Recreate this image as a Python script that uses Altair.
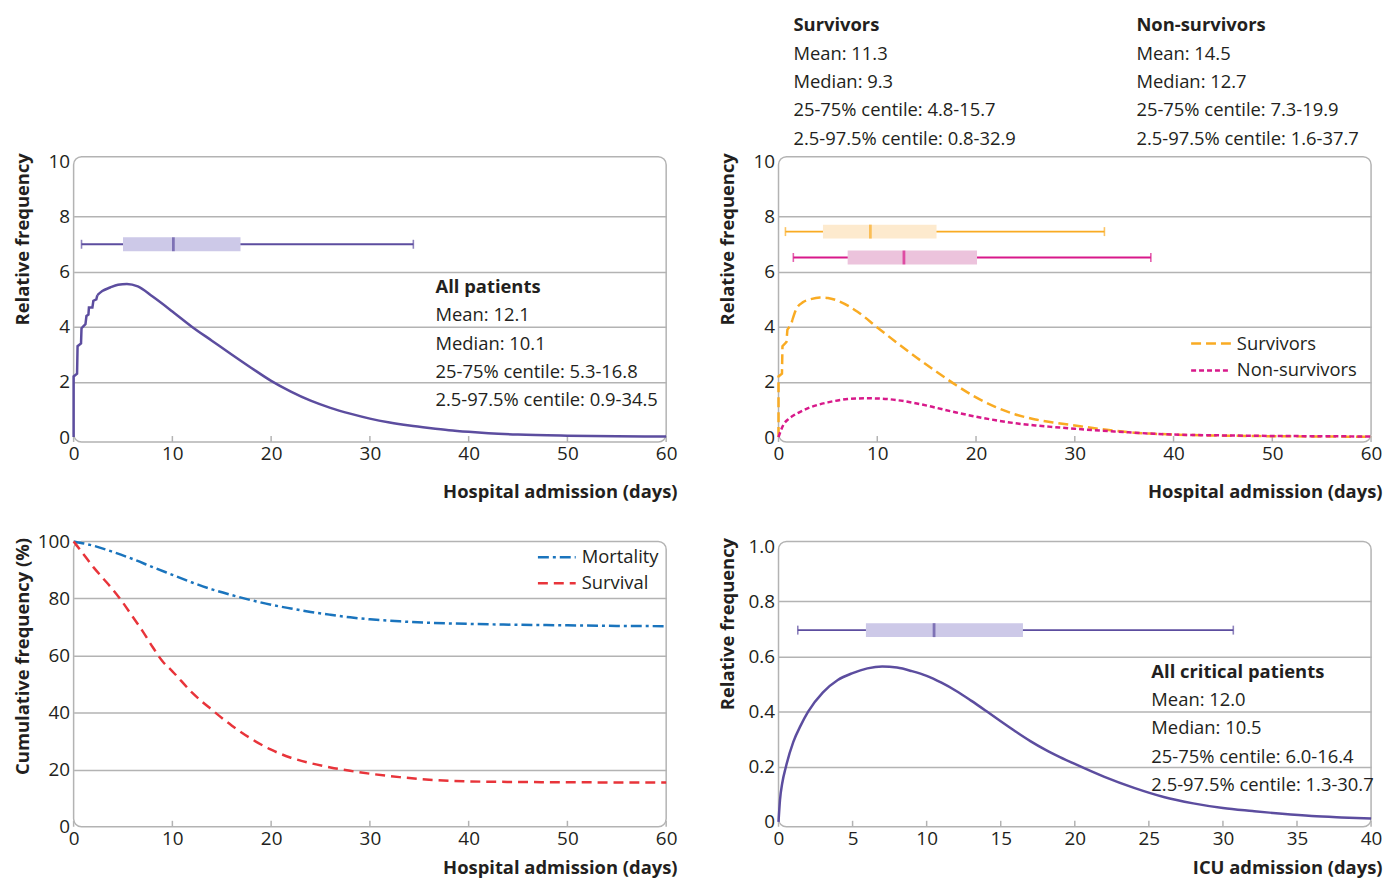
import altair as alt
import pandas as pd

FONT = "Open Sans"
INK = "#231f20"
FRAME = "#b3b3b3"
W, H = 596, 287
FS_TXT = 18.5      # annotation / legend text
FS_TICK = 19       # tick labels
FS_TITLE = 18.5    # axis titles

# ---------------- data ----------------
# Panel A: all patients, hospital admission (relative frequency, %)
all_x = [0, 0, 0.35, 0.4, 0.75, 0.8, 1.2, 1.3, 1.5, 1.55, 1.9, 2.0, 2.3, 2.4, 2.9, 3.7, 4.5, 5.4, 6.5, 8,
         10, 12, 14, 16, 18, 20, 22, 24, 26, 28, 30, 32, 34, 36, 38, 40, 42, 45, 50, 55, 60]
all_y = [0, 2.2, 2.3, 3.3, 3.4, 3.95, 4.1, 4.4, 4.45, 4.7, 4.7, 4.95, 5.0, 5.15, 5.3, 5.43, 5.53, 5.56, 5.47, 5.1,
         4.56, 4.0, 3.5, 3.0, 2.51, 2.04, 1.65, 1.32, 1.06, 0.85, 0.67, 0.53, 0.42, 0.33, 0.25, 0.19, 0.14,
         0.09, 0.05, 0.03, 0.02]
all_steps_end = 13   # index where the stepped start of the curve ends
all_box = [0.8, 5.0, 10.1, 16.9, 34.4]          # lo, q1, median, q3, hi
all_text = ["All patients", "Mean: 12.1", "Median: 10.1",
            "25-75% centile: 5.3-16.8", "2.5-97.5% centile: 0.9-34.5"]

# Panel B: survivors / non-survivors
surv_x = [0, 0, 0.35, 0.4, 0.8, 0.9, 1.3, 1.4, 1.8, 2.5, 3.2, 4.2, 5, 6, 8, 10, 12, 14, 16, 18, 20, 22, 24,
          26, 28, 30, 32, 34, 36, 38, 40, 45, 50, 55, 60]
surv_y = [0, 2.2, 2.3, 3.3, 3.45, 3.9, 4.1, 4.25, 4.65, 4.9, 5.0, 5.07, 5.05, 4.95, 4.55, 3.98, 3.42, 2.88,
          2.37, 1.88, 1.44, 1.09, 0.82, 0.64, 0.52, 0.42, 0.32, 0.23, 0.16, 0.12, 0.09, 0.05, 0.03, 0.02, 0.01]
surv_steps_end = 7
nonsurv_x = [0, 0.5, 1, 1.5, 2, 3, 4, 5, 6, 7, 8, 9, 10, 11, 12, 14, 16, 18, 20, 22, 24, 26, 28, 30, 32, 34,
             36, 38, 40, 45, 50, 55, 60]
nonsurv_y = [0, 0.45, 0.65, 0.78, 0.88, 1.05, 1.17, 1.26, 1.33, 1.38, 1.4, 1.41, 1.4, 1.38, 1.34, 1.22,
             1.06, 0.89, 0.74, 0.61, 0.5, 0.42, 0.36, 0.3, 0.25, 0.2, 0.16, 0.12, 0.09, 0.06, 0.04, 0.03, 0.02]
surv_box = [0.7, 4.5, 9.3, 16.0, 33.0]
nonsurv_box = [1.5, 7.0, 12.7, 20.1, 37.7]
surv_text = ["Survivors", "Mean: 11.3", "Median: 9.3", "25-75% centile: 4.8-15.7", "2.5-97.5% centile: 0.8-32.9"]
nonsurv_text = ["Non-survivors", "Mean: 14.5", "Median: 12.7", "25-75% centile: 7.3-19.9",
                "2.5-97.5% centile: 1.6-37.7"]
legend_b = ["Survivors", "Non-survivors"]

# Panel C: cumulative frequency (%)
mort_x = [0, 2, 4, 6, 8, 10, 12, 14, 16, 18, 20, 22, 24, 26, 28, 30, 33, 36, 40, 45, 50, 55, 60]
mort_y = [100, 98.5, 96.3, 93.8, 91, 88.3, 85.6, 83.2, 81.2, 79.4, 77.8, 76.5, 75.3, 74.3, 73.4, 72.7, 72.0,
          71.5, 71.1, 70.8, 70.6, 70.4, 70.3]
survl_x = [0, 1, 2, 3, 4, 5, 6, 7, 8, 9, 10, 12, 14, 16, 18, 20, 22, 24, 26, 28, 30, 33, 36, 40, 45, 50, 60]
survl_y = [100, 95.5, 91, 87, 83, 78.5, 73.5, 68.5, 63, 58, 54.5, 47, 41, 35.5, 30.8, 27, 24.2, 22.3, 20.8,
           19.6, 18.6, 17.4, 16.5, 15.9, 15.7, 15.6, 15.5]
legend_c = ["Mortality", "Survival"]

# Panel D: ICU admission
icu_x = [0, 0.1, 0.25, 0.5, 1, 1.5, 2, 3, 4, 5, 6, 7, 8, 9, 10, 11, 12, 13, 14, 15, 16, 17, 18, 19, 20, 22,
         24, 26, 28, 30, 32, 34, 36, 38, 40]
icu_y = [0, 0.08, 0.14, 0.2, 0.29, 0.35, 0.4, 0.47, 0.515, 0.54, 0.557, 0.564, 0.56, 0.547, 0.53, 0.505,
         0.475, 0.44, 0.403, 0.365, 0.328, 0.293, 0.262, 0.235, 0.21, 0.163, 0.123, 0.09, 0.067, 0.05, 0.039,
         0.029, 0.021, 0.016, 0.012]
icu_box = [1.3, 5.9, 10.5, 16.5, 30.7]
icu_text = ["All critical patients", "Mean: 12.0", "Median: 10.5", "25-75% centile: 6.0-16.4",
            "2.5-97.5% centile: 1.3-30.7"]

hosp_ticks = [0, 10, 20, 30, 40, 50, 60]
icu_ticks = [0, 5, 10, 15, 20, 25, 30, 35, 40]
rel_ticks = [0, 2, 4, 6, 8, 10]
cum_ticks = [0, 20, 40, 60, 80, 100]
icu_yticks = [0, 0.2, 0.4, 0.6, 0.8, 1.0]

# ---------------- helpers ----------------
PURPLE, PURPLE_L = "#5c4d9f", "#cdc9e8"
ORANGE, ORANGE_L = "#f9ab23", "#fdeace"
MAGENTA, MAGENTA_L = "#d8198a", "#ecc3dc"
BLUE, RED = "#1a74bd", "#e8343a"


def xenc(field, dom, ticks, title, title_y):
    return alt.X(f"{field}:Q", scale=alt.Scale(domain=dom, nice=False, zero=False),
                 axis=alt.Axis(values=ticks, title=title, grid=False, ticks=False, domain=False,
                               labelFlush=False, labelFont=FONT, labelFontSize=FS_TICK, labelColor=INK,
                               labelPadding=3, titleFont=FONT, titleFontSize=FS_TITLE, titleFontWeight="bold",
                               titleColor=INK, titleAlign="right", titleX=W + 11, titleY=title_y,
                               titleBaseline="alphabetic"))


def yenc(field, dom, ticks, title, label_expr=None):
    kw = dict(values=ticks, title=title, grid=True, gridColor=FRAME, gridWidth=1.5,
              gridOpacity={"condition": {"test": f"datum.value <= {dom[0]} || datum.value >= {dom[1]}",
                                         "value": 0}, "value": 1},
              ticks=False, domain=False, labelFont=FONT, labelFontSize=FS_TICK, labelColor=INK, labelPadding=4,
              titleFont=FONT, titleFontSize=FS_TITLE, titleFontWeight="bold", titleColor=INK, titleAngle=270,
              titleAlign="right", titleBaseline="middle", titleX=-51.5, titleY=-4)
    if label_expr:
        kw["labelExpr"] = label_expr
    return alt.Y(f"{field}:Q", scale=alt.Scale(domain=dom, nice=False, zero=False), axis=alt.Axis(**kw))


def curve(xs, ys, color, dash, X, Y, steps_end=None):
    df = pd.DataFrame({"x": xs, "y": ys, "i": range(len(xs))})
    mk = dict(color=color, strokeWidth=2.5)
    if dash:
        mk["strokeDash"] = dash
    if steps_end is None:
        return [alt.Chart(df).mark_line(interpolate="monotone", **mk).encode(x=X("x"), y=Y("y"), order="i:Q")]
    head = df.iloc[:steps_end + 1]
    tail = df.iloc[steps_end:]
    return [alt.Chart(head).mark_line(interpolate="linear", **mk).encode(x=X("x"), y=Y("y"), order="i:Q"),
            alt.Chart(tail).mark_line(interpolate="monotone", **mk).encode(x=X("x"), y=Y("y"), order="i:Q")]


def boxplot(stats, level, color, fill, X, Y):
    df = pd.DataFrame([dict(zip(["lo", "q1", "med", "q3", "hi"], stats))])
    base = alt.Chart(df)
    yv = alt.datum(level)
    whisk = base.mark_rule(color=color, strokeWidth=1.8).encode(x=X("lo"), x2="hi", y=yv)
    cap1 = base.mark_tick(color=color, orient="vertical", size=9, thickness=1.6).encode(x=X("lo"), y=yv)
    cap2 = base.mark_tick(color=color, orient="vertical", size=9, thickness=1.6).encode(x=X("hi"), y=yv)
    box = base.mark_bar(color=fill, size=14).encode(x=X("q1"), x2="q3", y=yv)
    med = base.mark_tick(color=color, orient="vertical", size=14, thickness=2.8).encode(x=X("med"), y=yv)
    return [whisk, cap1, cap2, box, med]


def textblock(lines, px, py, step=28.5):
    layers = []
    for k, line in enumerate(lines):
        df = pd.DataFrame({"t": [line]})
        layers.append(alt.Chart(df).mark_text(
            align="left", baseline="middle", font=FONT, fontSize=FS_TXT, color=INK,
            fontWeight="bold" if k == 0 else "normal").encode(
            text="t:N", x=alt.value(px), y=alt.value(py + k * step)))
    return layers


def legend(items, colors, dashes, x1, x2, tx, y0, step):
    layers = []
    for k, (lab, col, dsh) in enumerate(zip(items, colors, dashes)):
        df = pd.DataFrame({"t": [lab]})
        layers.append(alt.Chart(df).mark_rule(color=col, strokeWidth=2.5, strokeDash=dsh).encode(
            x=alt.value(x1), x2=alt.value(x2), y=alt.value(y0 + k * step)))
        layers.append(alt.Chart(df).mark_text(align="left", baseline="middle", font=FONT, fontSize=FS_TXT,
                                              color=INK).encode(
            text="t:N", x=alt.value(tx), y=alt.value(y0 + k * step)))
    return layers


def xticks_layer(ticks, X):
    df = pd.DataFrame({"t": ticks})
    return alt.Chart(df).mark_rule(color=FRAME, strokeWidth=1.5).encode(
        x=X("t"), y=alt.value(H), y2=alt.value(H - 6))


# ---------------- panel A ----------------
XA = lambda f: xenc(f, [0, 60], hosp_ticks, "Hospital admission (days)", 56)
YA = lambda f: yenc(f, [0, 10], rel_ticks, "Relative frequency")
pa = alt.layer(
    xticks_layer(hosp_ticks, XA),
    *curve(all_x, all_y, PURPLE, None, XA, YA, all_steps_end),
    *boxplot(all_box, 7.0, PURPLE, PURPLE_L, XA, YA),
    *textblock(all_text, 364, 131),
).properties(width=W, height=H)

# ---------------- panel B ----------------
XB = lambda f: xenc(f, [0, 60], hosp_ticks, "Hospital admission (days)", 56)
YB = lambda f: yenc(f, [0, 10], rel_ticks, "Relative frequency")
pb = alt.layer(
    xticks_layer(hosp_ticks, XB),
    *curve(surv_x, surv_y, ORANGE, [10, 5], XB, YB, surv_steps_end),
    *curve(nonsurv_x, nonsurv_y, MAGENTA, [5, 3], XB, YB),
    *boxplot(surv_box, 7.46, ORANGE, ORANGE_L, XB, YB),
    *boxplot(nonsurv_box, 6.52, MAGENTA, MAGENTA_L, XB, YB),
    *textblock(surv_text, 15, -132),
    *textblock(nonsurv_text, 360, -132),
    *legend(legend_b, [ORANGE, MAGENTA], [[10, 5], [5, 3]], 415, 455, 461, 188, 27),
).properties(width=W, height=H)

# ---------------- panel C ----------------
XC = lambda f: xenc(f, [0, 60], hosp_ticks, "Hospital admission (days)", 47)
YC = lambda f: yenc(f, [0, 100], cum_ticks, "Cumulative frequency (%)")
pc = alt.layer(
    xticks_layer(hosp_ticks, XC),
    *curve(mort_x, mort_y, BLUE, [11, 4, 3, 4], XC, YC),
    *curve(survl_x, survl_y, RED, [10, 6], XC, YC),
    *legend(legend_c, [BLUE, RED], [[11, 4, 3, 4], [10, 6]], 467, 505, 511, 16, 26),
).properties(width=W, height=H)

# ---------------- panel D ----------------
XD = lambda f: xenc(f, [0, 40], icu_ticks, "ICU admission (days)", 47)
YD = lambda f: yenc(f, [0, 1], icu_yticks, "Relative frequency",
                    "datum.value === 0 ? '0' : format(datum.value, '.1f')")
pd_ = alt.layer(
    xticks_layer(icu_ticks, XD),
    *curve(icu_x, icu_y, PURPLE, None, XD, YD),
    *boxplot(icu_box, 0.696, PURPLE, PURPLE_L, XD, YD),
    *textblock(icu_text, 375, 131),
).properties(width=W, height=H)

chart = alt.concat(pa, pb, pc, pd_, columns=2, spacing={"row": 100, "column": 113}, bounds="flush") \
    .configure_view(stroke=FRAME, strokeWidth=1.5, cornerRadius=8) \
    .properties(background="white", padding={"left": 4, "top": 5, "right": 0, "bottom": 0})

chart.save("out.html", embed_options={"renderer": "svg", "actions": False})
